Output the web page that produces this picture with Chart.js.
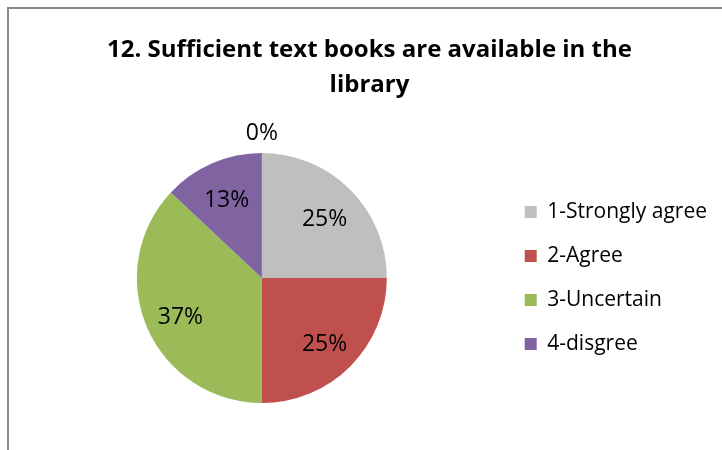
<!DOCTYPE html>
<html>
<head>
<meta charset="utf-8">
<script src="https://cdn.jsdelivr.net/npm/chart.js@4/dist/chart.umd.min.js"></script>
<style>
  html, body { margin: 0; padding: 0; background: #fff; }
  #wrap { position: relative; width: 722px; height: 450px; overflow: hidden; }
  #frame { position: absolute; left: 7px; top: 7px; width: 800px; height: 500px;
           border-left: 2px solid #8a8a8a; border-top: 2px solid #8a8a8a; }
  #pieChart { position: absolute; left: 0; top: 0; }
</style>
</head>
<body>
<div id="wrap">
  <div id="frame"></div>
  <canvas id="pieChart" width="722" height="450"></canvas>
</div>
<script>
const titleLines = ["12. Sufficient text books are available in the", "library"];
const categories = ["1-Strongly agree", "2-Agree", "3-Uncertain", "4-disgree", "5-Strongly disagree"];
const shares = [25, 25, 37, 13, 0];
const sliceColors = ["#BFBFBF", "#C0504D", "#9BBB59", "#8064A2", "#4BACC6"];

// draws the percent labels the way Excel places them
const pctLabels = {
  id: "pctLabels",
  afterDatasetsDraw(chart) {
    const ctx = chart.ctx;
    const meta = chart.getDatasetMeta(0);
    ctx.save();
    ctx.font = "23px 'Open Sans'";
    ctx.fillStyle = "#000";
    ctx.textAlign = "center";
    ctx.textBaseline = "middle";
    meta.data.forEach((arc, i) => {
      const v = shares[i];
      const mid = (arc.startAngle + arc.endAngle) / 2;
      const r = v === 0 ? arc.outerRadius + 20 : arc.outerRadius * 0.71;
      const x = arc.x + Math.cos(mid) * r;
      const y = arc.y + Math.sin(mid) * r + (v === 0 ? 0 : 4);
      ctx.fillText(v + "%", x, y);
    });
    ctx.restore();
  }
};

new Chart(document.getElementById("pieChart").getContext("2d"), {
  type: "pie",
  data: {
    labels: categories,
    datasets: [{
      data: shares,
      backgroundColor: sliceColors,
      borderWidth: 0
    }]
  },
  options: {
    responsive: false,
    animation: false,
    layout: { padding: { left: 22, right: 5, top: 0, bottom: 47 } },
    plugins: {
      title: {
        display: true,
        text: titleLines,
        color: "#000",
        font: { family: "'Open Sans'", size: 24, weight: "bold", lineHeight: 1.46 },
        padding: { top: 33, bottom: 50 }
      },
      legend: {
        position: "right",
        fullSize: false,
        labels: {
          color: "#000",
          font: { family: "'Open Sans'", size: 21 },
          boxWidth: 12,
          boxHeight: 12,
          padding: 23,
          filter: item => shares[item.index] > 0
        }
      },
      tooltip: { enabled: false }
    }
  },
  plugins: [pctLabels]
});
</script>
</body>
</html>
